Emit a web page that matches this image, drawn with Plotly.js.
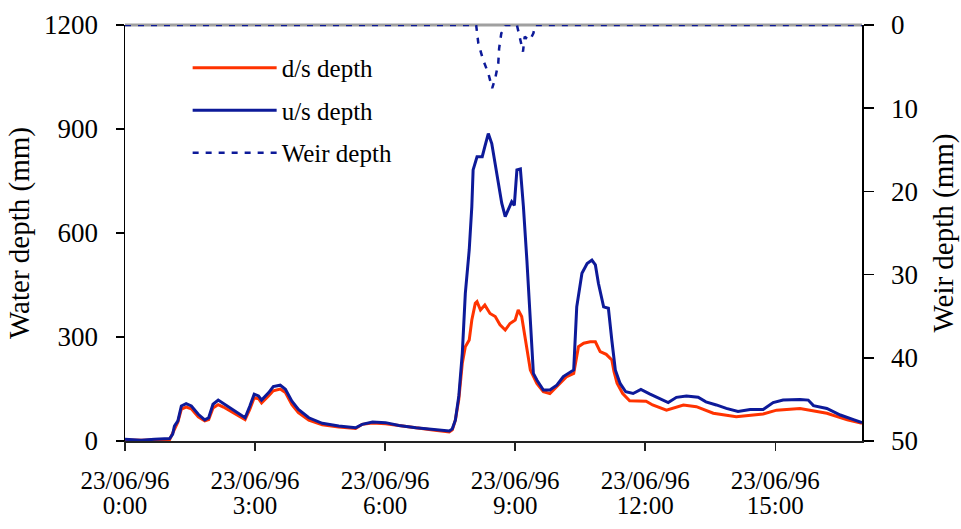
<!DOCTYPE html>
<html>
<head>
<meta charset="utf-8">
<script src="https://cdn.plot.ly/plotly-3.0.1.min.js"></script>
<style>
html,body{margin:0;padding:0;background:#fff;}
#chart{width:961px;height:529px;}
</style>
</head>
<body>
<div id="chart"></div>
<script>
// Time axis (hours after 23/06/96 0:00)
const tickHours = [0, 3, 6, 9, 12, 15];
const tickDates = ["23/06/96", "23/06/96", "23/06/96", "23/06/96", "23/06/96", "23/06/96"];
const tickTimes = ["0:00", "3:00", "6:00", "9:00", "12:00", "15:00"];

// d/s depth (mm)
const dsHours = [0,0.4,1.03,1.14,1.22,1.3,1.41,1.53,1.69,1.84,1.93,2.03,2.15,2.27,2.46,2.65,2.77,2.88,2.98,3.08,3.15,3.31,3.42,3.58,3.7,3.85,4.0,4.24,4.55,4.93,5.32,5.47,5.71,6.01,6.32,6.71,7.1,7.48,7.55,7.62,7.7,7.78,7.85,7.94,8.0,8.08,8.12,8.2,8.3,8.42,8.54,8.65,8.77,8.88,9.0,9.07,9.15,9.27,9.35,9.5,9.65,9.8,9.96,10.19,10.35,10.46,10.58,10.73,10.85,10.96,11.1,11.23,11.28,11.35,11.48,11.64,12.02,12.17,12.49,12.88,13.18,13.57,14.1,14.72,15.03,15.57,16.19,16.66,17.0];
const dsDepth = [3,2,4,35,55,92,98,93,70,58,62,95,105,98,84,72,62,92,125,122,110,130,145,150,140,105,82,60,47,40,36,48,52,50,44,38,32,26,32,60,120,224,272,291,349,397,402,378,392,368,359,335,320,339,349,378,359,272,205,166,142,137,157,186,195,272,282,286,286,258,250,234,200,167,137,116,115,104,89,104,99,80,70,78,89,94,80,61,51];

// u/s depth (mm)
const usHours = [0,0.2,0.37,0.68,1.03,1.1,1.14,1.22,1.3,1.41,1.53,1.69,1.84,1.93,2.03,2.15,2.27,2.46,2.65,2.77,2.88,2.98,3.08,3.15,3.31,3.42,3.58,3.7,3.85,4.0,4.24,4.55,4.93,5.32,5.47,5.71,6.01,6.32,6.71,7.1,7.48,7.55,7.62,7.7,7.78,7.85,7.94,8.0,8.03,8.12,8.24,8.3,8.38,8.46,8.58,8.69,8.77,8.84,8.92,8.98,9.04,9.12,9.19,9.27,9.35,9.39,9.42,9.5,9.65,9.8,9.96,10.11,10.27,10.35,10.42,10.54,10.66,10.77,10.85,10.92,11.04,11.15,11.23,11.31,11.42,11.55,11.72,11.9,12.1,12.33,12.53,12.72,12.95,13.22,13.4,13.64,13.87,14.14,14.42,14.72,14.95,15.18,15.57,15.76,15.88,16.19,16.5,16.82,17.0];
const usDepth = [5,3,2,5,7,20,43,58,101,108,101,77,61,67,106,118,108,91,77,67,101,135,130,118,139,157,161,149,115,91,67,51,43,38,48,55,53,45,38,34,29,35,60,130,253,426,551,676,782,820,820,849,887,858,772,686,647,666,690,680,782,785,676,522,349,253,195,176,147,147,161,186,200,205,387,484,512,522,508,455,387,383,290,205,166,142,137,149,136,123,111,126,130,126,113,104,94,85,91,91,111,118,120,118,102,94,75,61,53];

// Weir depth (mm, right axis)
const weirHours = [0,8.1,8.15,8.26,8.38,8.47,8.54,8.61,8.63,8.68,8.73,8.77,9.04,9.07,9.12,9.18,9.22,9.27,9.35,9.38,9.42,9.46,17];
const weirDepth = [0,0,2.2,4.2,5.8,7.6,6.4,4.6,2.8,1.0,0.6,0,0,0.6,1.8,3.2,1.4,1.6,1.8,1.4,1.0,0,0];

const FONT = "Liberation Serif, Times New Roman, serif";
const RED = "#ff3300";
const NAVY = "#0d1a99";

const traces = [
  {x: dsHours, y: dsDepth, name: "d/s depth", type: "scatter", mode: "lines",
   line: {color: RED, width: 3}, legendgroup: "a"},
  {x: usHours, y: usDepth, name: "u/s depth", type: "scatter", mode: "lines",
   line: {color: NAVY, width: 3}, legendgroup: "b"},
  {x: weirHours, y: weirDepth, name: "Weir depth", type: "scatter", mode: "lines",
   yaxis: "y2", line: {color: NAVY, width: 2.5, dash: "6px,7px"}, legendgroup: "c"},
  {x: [], y: [], xaxis: "x2", showlegend: false, hoverinfo: "skip"}
];

const layout = {
  width: 961, height: 529,
  margin: {l: 125, r: 99, t: 25, b: 88},
  paper_bgcolor: "#fff", plot_bgcolor: "#fff",
  font: {family: FONT, color: "#000", size: 25},
  showlegend: true,
  legend: {x: 0.085, y: 0.952, xanchor: "left", yanchor: "top", bgcolor: "rgba(0,0,0,0)",
           font: {family: FONT, size: 25, color: "#000"}, itemwidth: 84, tracegroupgap: 7},
  xaxis: {range: [0, 17], tickvals: tickHours, ticktext: tickDates, showgrid: false, zeroline: false,
          showline: true, linecolor: "#222", linewidth: 2, ticks: "outside", ticklen: 8, tickwidth: 1.5,
          tickcolor: "#222", tickfont: {family: FONT, size: 25}, ticklabelstandoff: 8},
  xaxis2: {range: [0, 17], overlaying: "x", anchor: "y", side: "bottom", tickvals: tickHours, ticktext: tickTimes,
           showgrid: false, zeroline: false, showline: false, ticks: "outside", ticklen: 8, tickcolor: "rgba(0,0,0,0)",
           tickfont: {family: FONT, size: 25}, ticklabelstandoff: 34},
  yaxis: {range: [0, 1200], tickvals: [0, 300, 600, 900, 1200], showgrid: false, zeroline: false,
          showline: true, linecolor: "#000", linewidth: 1.5, ticks: "outside", ticklen: 8, tickwidth: 1.5,
          tickcolor: "#000", tickfont: {family: FONT, size: 27}, ticklabelstandoff: 12,
          title: {text: "Water depth (mm)", font: {family: FONT, size: 29}, standoff: 6}},
  yaxis2: {range: [50, 0], overlaying: "y", side: "right", anchor: "x", dtick: 10, tick0: 0, showgrid: false,
           zeroline: false, showline: true, linecolor: "#000", linewidth: 1.5, ticks: "outside", ticklen: 10,
           tickwidth: 1.5, tickcolor: "#000", tickfont: {family: FONT, size: 27}, ticklabelstandoff: 12,
           title: {text: "Weir depth (mm)", font: {family: FONT, size: 29}, standoff: 16}},
  shapes: [
    {type: "line", xref: "paper", yref: "paper", x0: 0, x1: 1, y0: 1, y1: 1, layer: "below",
     line: {color: "#a0a0a0", width: 3}}
  ]
};

Plotly.newPlot("chart", traces, layout, {displayModeBar: false, staticPlot: true});
</script>
</body>
</html>
